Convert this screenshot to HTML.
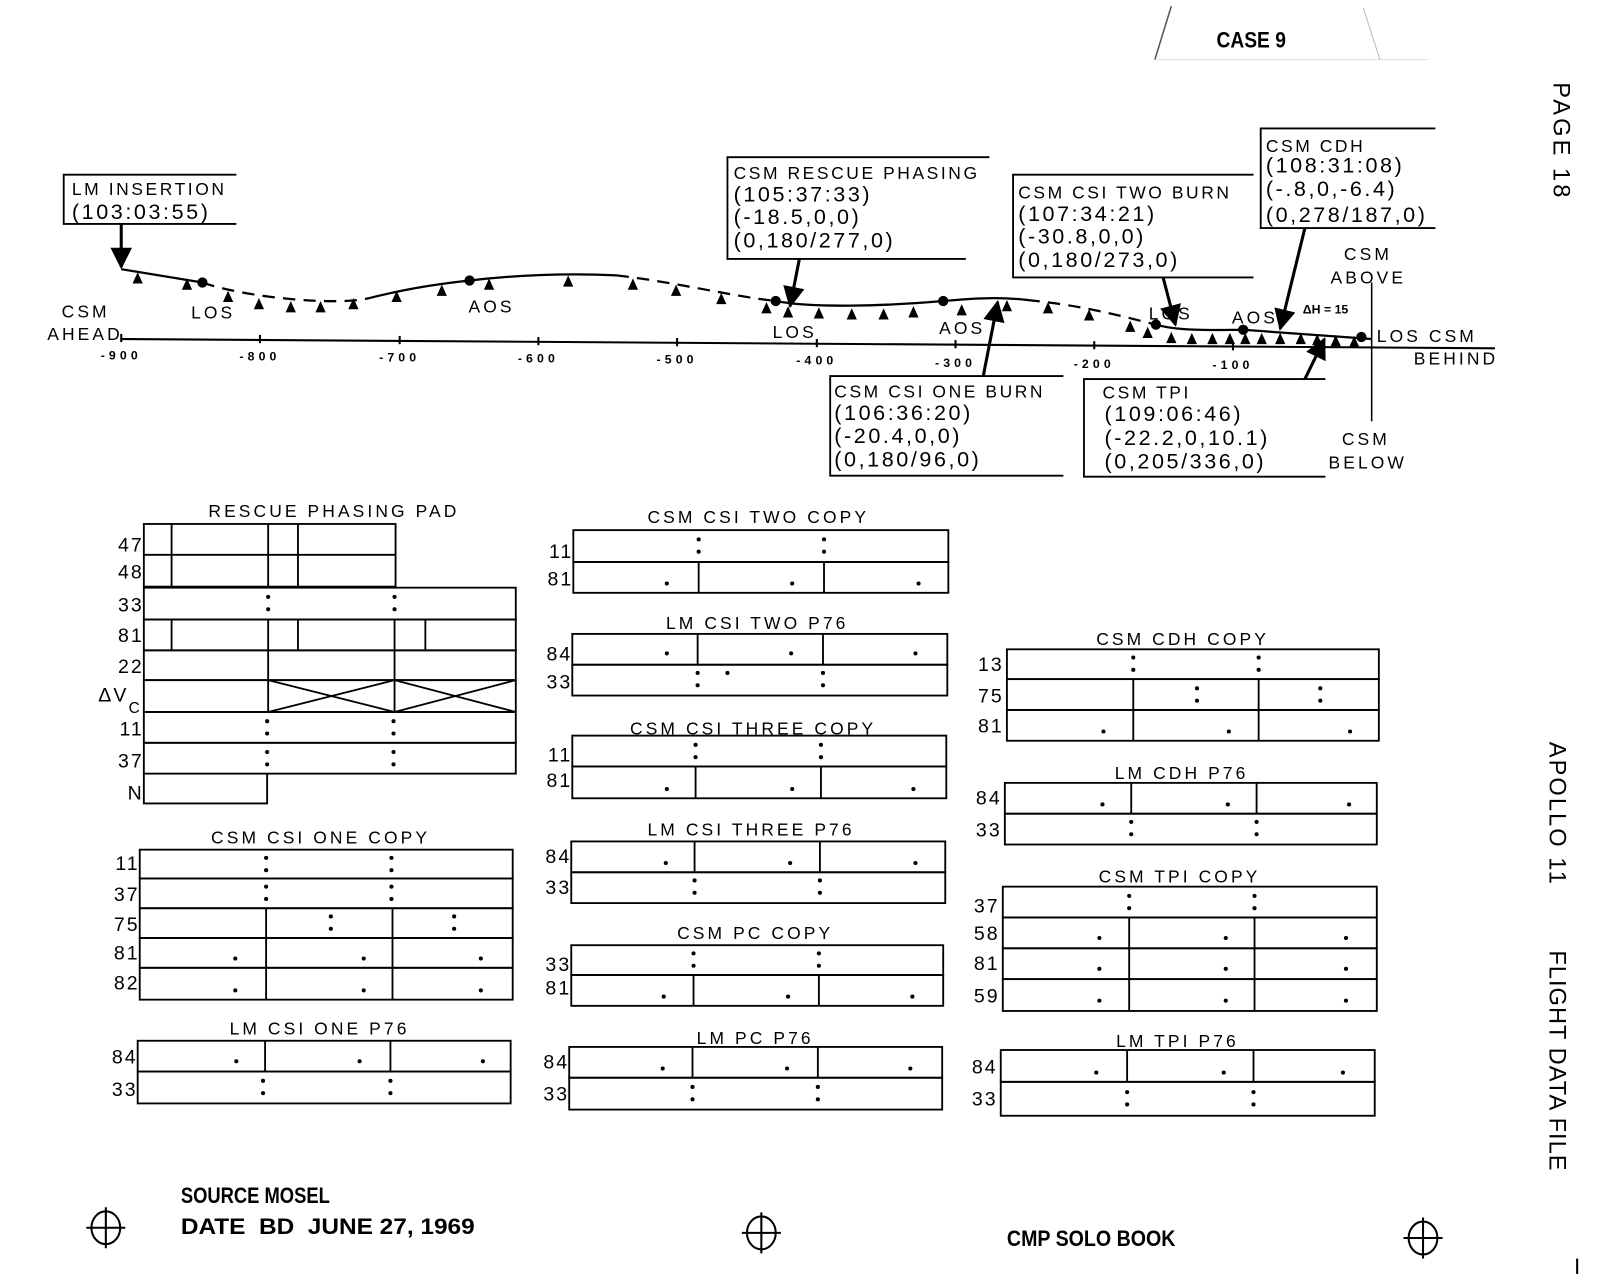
<!DOCTYPE html>
<html><head><meta charset="utf-8"><style>
html,body{margin:0;padding:0;background:#fff;}
svg{display:block;}
text{font-family:"Liberation Sans",sans-serif;fill:#000;}
.t{font-size:17px;letter-spacing:3px;text-anchor:middle;}
.l{font-size:19px;letter-spacing:2px;text-anchor:end;}
.b{font-size:21px;letter-spacing:2.5px;}
.s{font-size:17px;letter-spacing:3px;}
.b .s{font-size:17px;letter-spacing:2.5px;}
.k{font-size:12px;font-weight:bold;letter-spacing:4px;text-anchor:middle;}
</style></head><body>
<svg width="1609" height="1275" viewBox="0 0 1566 1241" preserveAspectRatio="none" xmlns="http://www.w3.org/2000/svg">
<defs><marker id="ar" viewBox="0 0 10 10" refX="9" refY="5" markerWidth="7" markerHeight="7" orient="auto"><path d="M0,0 L10,5 L0,10 z" fill="#000"/></marker></defs>
<!-- header -->
<path d="M1140,6 L1124,58" stroke="#555" stroke-width="1.5" fill="none"/>
<path d="M1126,58 H1390" stroke="#ddd" stroke-width="1" fill="none"/>
<path d="M1327,8 L1343,58" stroke="#bbb" stroke-width="1" fill="none"/>
<text x="1184" y="46" style="font-size:22px;font-weight:bold" transform="translate(1184,46) scale(0.85,1) translate(-1184,-46)">CASE 9</text>
<!-- side text -->
<text transform="translate(1512,80) rotate(90)" style="font-size:23px;letter-spacing:3px">PAGE 18</text>
<text transform="translate(1508,722) rotate(90)" style="font-size:23px;letter-spacing:2px">APOLLO 11</text>
<text transform="translate(1508,925) rotate(90)" style="font-size:23px;letter-spacing:1px">FLIGHT DATA FILE</text>

<!-- axis -->
<g stroke="#000" stroke-width="2" fill="none">
<path d="M118,330 L1455,339"/>
<path d="M118,325 V333"/><path d="M253,326 V334"/><path d="M389,327 V335"/><path d="M524,328 V336"/><path d="M659,329 V337"/><path d="M795,330 V338"/><path d="M930,331 V339"/><path d="M1065,332 V340"/><path d="M1200,333 V341"/>
<path d="M1335,275 V410" stroke-width="1.5"/>
</g>
<g class="k">
<text x="118" y="350">-900</text><text x="253" y="351">-800</text><text x="389" y="352">-700</text><text x="524" y="353">-600</text><text x="659" y="354">-500</text><text x="795" y="355">-400</text><text x="930" y="357">-300</text><text x="1065" y="358">-200</text><text x="1200" y="359">-100</text>
</g>
<!-- curve -->
<g stroke="#000" stroke-width="2.2" fill="none">
<path d="M118,262 L197,275"/>
<path d="M197,275 C240,290 330,298 360,290" stroke-dasharray="12,8"/>
<path d="M360,290 C400,280 430,276 457,273 C510,267 560,266 600,268"/>
<path d="M600,268 C660,275 710,288 755,293" stroke-dasharray="12,8"/>
<path d="M755,293 C790,300 860,298 918,293 C950,290 975,289 1000,292"/>
<path d="M1000,292 C1060,298 1100,310 1125,316" stroke-dasharray="12,8"/>
<path d="M1125,316 C1150,323 1190,321 1210,321 L1335,330"/>
</g>
<g fill="#000">
<circle cx="197" cy="275" r="5"/><circle cx="457" cy="273" r="5"/><circle cx="755" cy="293" r="5"/><circle cx="918" cy="293" r="5"/><circle cx="1125" cy="316" r="5"/><circle cx="1210" cy="321" r="5"/><circle cx="1325" cy="328" r="5"/>
<path d="M134,265l-5,11h10z M182,271l-5,11h10z M222,283l-5,11h10z M252,290l-5,11h10z M283,293l-5,11h10z M312,293l-5,11h10z M344,290l-5,11h10z M386,283l-5,11h10z M430,277l-5,11h10z M476,271l-5,11h10z M553,268l-5,11h10z M616,271l-5,11h10z M658,277l-5,11h10z M702,285l-5,11h10z M746,294l-5,11h10z M767,298l-5,11h10z M797,299l-5,11h10z M829,300l-5,11h10z M860,300l-5,11h10z M889,298l-5,11h10z M936,296l-5,11h10z M980,292l-5,11h10z M1020,294l-5,11h10z M1060,301l-5,11h10z M1100,312l-5,11h10z M1117,318l-5,11h10z M1140,323l-5,11h10z M1160,324l-5,11h10z M1180,324l-5,11h10z M1197,324l-5,11h10z M1212,324l-5,11h10z M1228,324l-5,11h10z M1246,324l-5,11h10z M1266,324l-5,11h10z M1282,325l-5,11h10z M1300,326l-5,11h10z M1318,327l-5,11h10z"/>
</g>
<g class="s">
<text x="60" y="309">CSM</text><text x="46" y="331">AHEAD</text>
<text x="186" y="310">LOS</text><text x="456" y="304">AOS</text>
<text x="752" y="329">LOS</text><text x="914" y="325">AOS</text>
<text x="1118" y="311">LOS</text><text x="1199" y="315">AOS</text>
<text x="1340" y="333">LOS CSM</text><text x="1376" y="355">BEHIND</text>
<text x="1308" y="253">CSM</text><text x="1295" y="276">ABOVE</text>
<text x="1306" y="433">CSM</text><text x="1293" y="456">BELOW</text>
</g>
<text x="1268" y="305" style="font-size:12px;font-weight:bold">ΔH = 15</text>
<!-- callouts -->
<g stroke="#000" stroke-width="1.8" fill="none">
<path d="M230,170 H62 V218 H230"/>
<path d="M963,153 H708 V252 H940"/>
<path d="M1220,170 H986 V270 H1220"/>
<path d="M1397,125 H1227 V222 H1397"/>
<path d="M1035,366 H808 V463 H1035"/>
<path d="M1290,369 H1055 V464 H1290"/>
</g>
<g stroke="#000" stroke-width="3" fill="none" marker-end="url(#ar)">
<path d="M118,218 L118,260"/>
<path d="M778,252 L769,298"/>
<path d="M957,366 L971,294"/>
<path d="M1132,270 L1144,316"/>
<path d="M1270,222 L1246,320"/>
<path d="M1270,369 L1289,330"/>
</g>
<g class="b">
<text x="70" y="190" class="s">LM INSERTION</text><text x="70" y="213">(103:03:55)</text>
<text x="714" y="174" class="s">CSM RESCUE PHASING</text><text x="714" y="196">(105:37:33)</text><text x="714" y="218">(-18.5,0,0)</text><text x="714" y="241">(0,180/277,0)</text>
<text x="991" y="193" class="s">CSM CSI TWO BURN</text><text x="991" y="215">(107:34:21)</text><text x="991" y="237">(-30.8,0,0)</text><text x="991" y="260">(0,180/273,0)</text>
<text x="1232" y="148" class="s">CSM CDH</text><text x="1232" y="168">(108:31:08)</text><text x="1232" y="191">(-.8,0,-6.4)</text><text x="1232" y="216">(0,278/187,0)</text>
<text x="812" y="387" class="s">CSM CSI ONE BURN</text><text x="812" y="409">(106:36:20)</text><text x="812" y="431">(-20.4,0,0)</text><text x="812" y="454">(0,180/96,0)</text>
<text x="1073" y="388" class="s">CSM TPI</text><text x="1075" y="410">(109:06:46)</text><text x="1075" y="433">(-22.2,0,10.1)</text><text x="1075" y="456">(0,205/336,0)</text>
</g>

<!-- tables -->
<g stroke="#000" stroke-width="1.8" fill="none">
<rect x="140" y="510" width="245" height="61"/><path d="M140,540 H385 M167,510 V571 M261,510 V571 M290,510 V571"/>
<rect x="140" y="572" width="362" height="31"/>
<rect x="140" y="603" width="362" height="30"/><path d="M167,603 V633 M261,603 V633 M290,603 V633 M384,603 V633 M414,603 V633"/>
<rect x="140" y="633" width="362" height="29"/><path d="M261,633 V662 M384,633 V662"/>
<rect x="140" y="662" width="362" height="31"/><path d="M261,662 V693 M384,662 V693 M261,662 L384,693 M261,693 L384,662 M384,662 L502,693 M384,693 L502,662"/>
<rect x="140" y="693" width="362" height="30"/>
<rect x="140" y="723" width="362" height="30"/>
<path d="M140,753 V782 H260 V753"/>
<rect x="136" y="827" width="363" height="28"/><rect x="136" y="855" width="363" height="29"/>
<rect x="136" y="884" width="363" height="29"/><rect x="136" y="913" width="363" height="29"/><rect x="136" y="942" width="363" height="31"/>
<path d="M259,884 V973 M382,884 V973"/>
<rect x="134" y="1013" width="363" height="30"/><rect x="134" y="1043" width="363" height="31"/><path d="M258,1013 V1043 M380,1013 V1043"/>
<rect x="558" y="516" width="365" height="31"/><rect x="558" y="547" width="365" height="30"/><path d="M680,547 V577 M802,547 V577"/>
<rect x="557" y="617" width="365" height="30"/><rect x="557" y="647" width="365" height="30"/><path d="M679,617 V647 M801,617 V647"/>
<rect x="557" y="716" width="364" height="30"/><rect x="557" y="746" width="364" height="31"/><path d="M677,746 V777 M799,746 V777"/>
<rect x="556" y="819" width="364" height="30"/><rect x="556" y="849" width="364" height="30"/><path d="M676,819 V849 M798,819 V849"/>
<rect x="556" y="920" width="362" height="29"/><rect x="556" y="949" width="362" height="30"/><path d="M675,949 V979 M797,949 V979"/>
<rect x="554" y="1019" width="363" height="30"/><rect x="554" y="1049" width="363" height="31"/><path d="M674,1019 V1049 M796,1019 V1049"/>
<rect x="980" y="632" width="362" height="29"/><rect x="980" y="661" width="362" height="30"/><rect x="980" y="691" width="362" height="30"/><path d="M1103,661 V721 M1225,661 V721"/>
<rect x="978" y="762" width="362" height="30"/><rect x="978" y="792" width="362" height="30"/><path d="M1101,762 V792 M1223,762 V792"/>
<rect x="976" y="863" width="364" height="30"/><rect x="976" y="893" width="364" height="30"/><rect x="976" y="923" width="364" height="30"/><rect x="976" y="953" width="364" height="31"/><path d="M1099,893 V984 M1221,893 V984"/>
<rect x="974" y="1022" width="364" height="31"/><rect x="974" y="1053" width="364" height="33"/><path d="M1097,1022 V1053 M1220,1022 V1053"/>
</g>
<g fill="#000">
<circle cx="261" cy="581" r="2"/><circle cx="261" cy="593" r="2"/><circle cx="384" cy="581" r="2"/><circle cx="384" cy="593" r="2"/>
<circle cx="260" cy="702" r="2"/><circle cx="260" cy="714" r="2"/><circle cx="383" cy="702" r="2"/><circle cx="383" cy="714" r="2"/>
<circle cx="260" cy="732" r="2"/><circle cx="260" cy="744" r="2"/><circle cx="383" cy="732" r="2"/><circle cx="383" cy="744" r="2"/>
<circle cx="259" cy="835" r="2"/><circle cx="259" cy="847" r="2"/><circle cx="381" cy="835" r="2"/><circle cx="381" cy="847" r="2"/>
<circle cx="259" cy="863" r="2"/><circle cx="259" cy="875" r="2"/><circle cx="381" cy="863" r="2"/><circle cx="381" cy="875" r="2"/>
<circle cx="322" cy="892" r="2"/><circle cx="322" cy="904" r="2"/><circle cx="442" cy="892" r="2"/><circle cx="442" cy="904" r="2"/>
<circle cx="229" cy="933" r="2"/><circle cx="354" cy="933" r="2"/><circle cx="468" cy="933" r="2"/>
<circle cx="229" cy="964" r="2"/><circle cx="354" cy="964" r="2"/><circle cx="468" cy="964" r="2"/>
<circle cx="230" cy="1033" r="2"/><circle cx="350" cy="1033" r="2"/><circle cx="470" cy="1033" r="2"/>
<circle cx="256" cy="1052" r="2"/><circle cx="256" cy="1064" r="2"/><circle cx="380" cy="1052" r="2"/><circle cx="380" cy="1064" r="2"/>
<circle cx="680" cy="525" r="2"/><circle cx="680" cy="537" r="2"/><circle cx="802" cy="525" r="2"/><circle cx="802" cy="537" r="2"/>
<circle cx="649" cy="568" r="2"/><circle cx="771" cy="568" r="2"/><circle cx="894" cy="568" r="2"/>
<circle cx="649" cy="636" r="2"/><circle cx="770" cy="636" r="2"/><circle cx="891" cy="636" r="2"/>
<circle cx="679" cy="655" r="2"/><circle cx="679" cy="667" r="2"/><circle cx="801" cy="655" r="2"/><circle cx="801" cy="667" r="2"/><circle cx="708" cy="655" r="2"/>
<circle cx="677" cy="725" r="2"/><circle cx="677" cy="737" r="2"/><circle cx="799" cy="725" r="2"/><circle cx="799" cy="737" r="2"/>
<circle cx="649" cy="768" r="2"/><circle cx="771" cy="768" r="2"/><circle cx="889" cy="768" r="2"/>
<circle cx="648" cy="840" r="2"/><circle cx="769" cy="840" r="2"/><circle cx="891" cy="840" r="2"/>
<circle cx="676" cy="857" r="2"/><circle cx="676" cy="869" r="2"/><circle cx="798" cy="857" r="2"/><circle cx="798" cy="869" r="2"/>
<circle cx="675" cy="928" r="2"/><circle cx="675" cy="940" r="2"/><circle cx="797" cy="928" r="2"/><circle cx="797" cy="940" r="2"/>
<circle cx="646" cy="970" r="2"/><circle cx="767" cy="970" r="2"/><circle cx="888" cy="970" r="2"/>
<circle cx="645" cy="1040" r="2"/><circle cx="766" cy="1040" r="2"/><circle cx="886" cy="1040" r="2"/>
<circle cx="674" cy="1058" r="2"/><circle cx="674" cy="1070" r="2"/><circle cx="796" cy="1058" r="2"/><circle cx="796" cy="1070" r="2"/>
<circle cx="1103" cy="640" r="2"/><circle cx="1103" cy="652" r="2"/><circle cx="1225" cy="640" r="2"/><circle cx="1225" cy="652" r="2"/>
<circle cx="1165" cy="670" r="2"/><circle cx="1165" cy="682" r="2"/><circle cx="1285" cy="670" r="2"/><circle cx="1285" cy="682" r="2"/>
<circle cx="1074" cy="712" r="2"/><circle cx="1196" cy="712" r="2"/><circle cx="1314" cy="712" r="2"/>
<circle cx="1073" cy="783" r="2"/><circle cx="1195" cy="783" r="2"/><circle cx="1313" cy="783" r="2"/>
<circle cx="1101" cy="800" r="2"/><circle cx="1101" cy="812" r="2"/><circle cx="1223" cy="800" r="2"/><circle cx="1223" cy="812" r="2"/>
<circle cx="1099" cy="872" r="2"/><circle cx="1099" cy="884" r="2"/><circle cx="1221" cy="872" r="2"/><circle cx="1221" cy="884" r="2"/>
<circle cx="1070" cy="913" r="2"/><circle cx="1193" cy="913" r="2"/><circle cx="1310" cy="913" r="2"/>
<circle cx="1070" cy="943" r="2"/><circle cx="1193" cy="943" r="2"/><circle cx="1310" cy="943" r="2"/>
<circle cx="1070" cy="974" r="2"/><circle cx="1193" cy="974" r="2"/><circle cx="1310" cy="974" r="2"/>
<circle cx="1067" cy="1044" r="2"/><circle cx="1191" cy="1044" r="2"/><circle cx="1307" cy="1044" r="2"/>
<circle cx="1097" cy="1063" r="2"/><circle cx="1097" cy="1075" r="2"/><circle cx="1220" cy="1063" r="2"/><circle cx="1220" cy="1075" r="2"/>
</g>
<g class="t">
<text x="325" y="503">RESCUE PHASING PAD</text>
<text x="738" y="509">CSM CSI TWO COPY</text>
<text x="737" y="612">LM CSI TWO P76</text>
<text x="733" y="715">CSM CSI THREE COPY</text>
<text x="731" y="813">LM CSI THREE P76</text>
<text x="735" y="914">CSM PC COPY</text>
<text x="735" y="1016">LM PC P76</text>
<text x="312" y="821">CSM CSI ONE COPY</text>
<text x="311" y="1007">LM CSI ONE P76</text>
<text x="1151" y="628">CSM CDH COPY</text>
<text x="1150" y="758">LM CDH P76</text>
<text x="1148" y="859">CSM TPI COPY</text>
<text x="1146" y="1019">LM TPI P76</text>
</g>
<g class="l">
<text x="140" y="537">47</text><text x="140" y="563">48</text><text x="140" y="595">33</text><text x="140" y="625">81</text><text x="140" y="655">22</text>
<text x="125" y="683">ΔV</text><text x="138" y="694" style="font-size:15px">C</text>
<text x="140" y="716">11</text><text x="140" y="747">37</text><text x="140" y="778">N</text>
<text x="136" y="847">11</text><text x="136" y="877">37</text><text x="136" y="906">75</text><text x="136" y="934">81</text><text x="136" y="963">82</text>
<text x="134" y="1035">84</text><text x="134" y="1067">33</text>
<text x="558" y="543">11</text><text x="558" y="570">81</text><text x="557" y="643">84</text><text x="557" y="670">33</text>
<text x="557" y="741">11</text><text x="557" y="766">81</text><text x="556" y="840">84</text><text x="556" y="870">33</text>
<text x="556" y="945">33</text><text x="556" y="968">81</text><text x="554" y="1040">84</text><text x="554" y="1071">33</text>
<text x="977" y="653">13</text><text x="977" y="684">75</text><text x="977" y="713">81</text>
<text x="975" y="783">84</text><text x="975" y="814">33</text>
<text x="973" y="888">37</text><text x="973" y="915">58</text><text x="973" y="944">81</text><text x="973" y="976">59</text>
<text x="971" y="1045">84</text><text x="971" y="1076">33</text>
</g>
<g style="font-size:22px;font-weight:bold">
<text x="176" y="1171" textLength="145" lengthAdjust="spacingAndGlyphs">SOURCE MOSEL</text>
<text x="176" y="1201" textLength="286" lengthAdjust="spacingAndGlyphs">DATE&#160;&#160;BD&#160;&#160;JUNE 27, 1969</text>
<text x="980" y="1213" textLength="164" lengthAdjust="spacingAndGlyphs">CMP SOLO BOOK</text>
</g>
<g stroke="#000" stroke-width="2" fill="none">
<ellipse cx="103" cy="1195" rx="14" ry="16"/><path d="M84,1195 H122 M103,1175 V1215"/>
<ellipse cx="741" cy="1200" rx="14" ry="16"/><path d="M722,1200 H760 M741,1180 V1220"/>
<ellipse cx="1385" cy="1205" rx="14" ry="16"/><path d="M1366,1205 H1404 M1385,1185 V1225"/>
<path d="M1535,1225 V1240"/>
</g>
</svg>
</body></html>
